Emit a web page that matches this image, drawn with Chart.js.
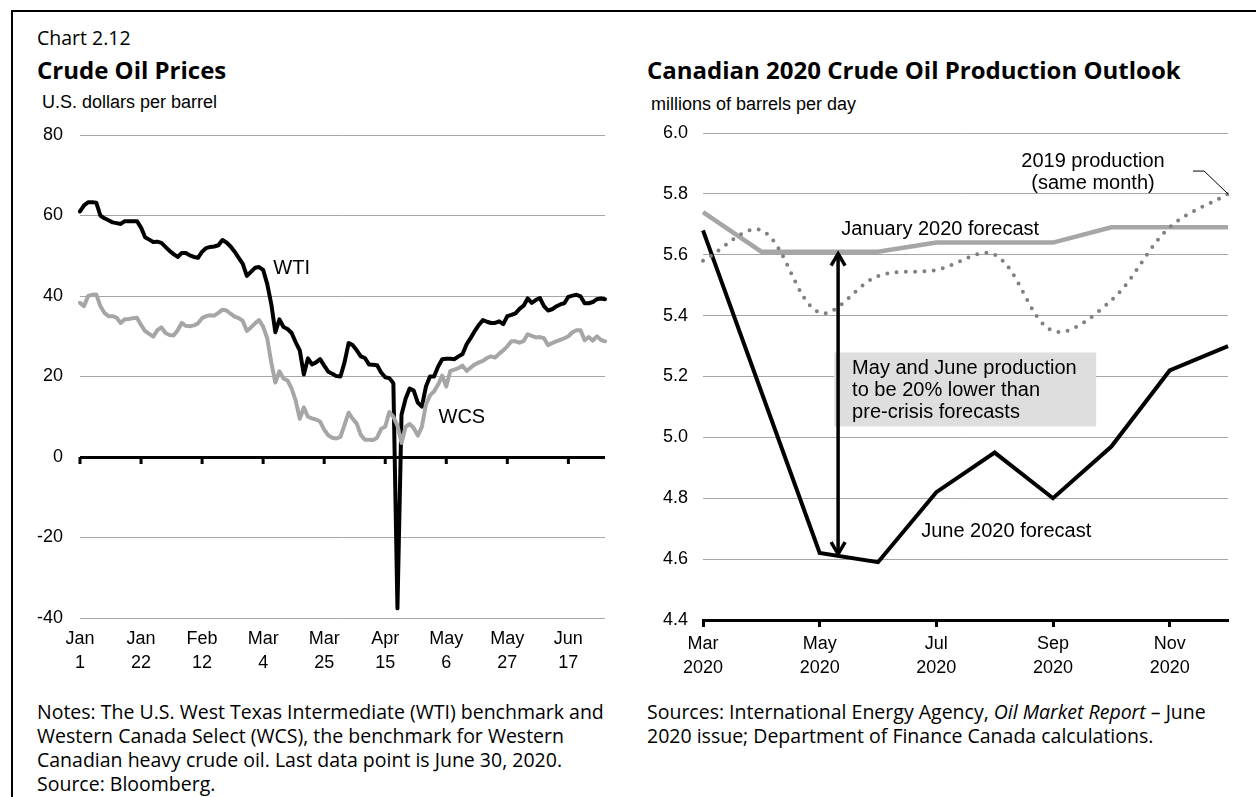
<!DOCTYPE html>
<html>
<head>
<meta charset="utf-8">
<script src="https://cdn.jsdelivr.net/npm/chart.js@4.4.0/dist/chart.umd.min.js"></script>
<style>
  html, body { margin: 0; padding: 0; background: #fff; }
  body { width: 1256px; height: 797px; position: relative; overflow: hidden; color: #000;
         font-family: "Open Sans", "Noto Sans", sans-serif; }
  .frame { position: absolute; left: 11px; top: 10px; width: 1400px; height: 1000px;
           border-left: 2px solid #000; border-top: 2px solid #000; }
  .t { position: absolute; white-space: nowrap; }
  .num { font-size: 19.5px; line-height: 26px; }
  .ttl { font-size: 24px; line-height: 30px; font-weight: 700; }
  .unit { font-family: "Liberation Sans", Arial, sans-serif; font-size: 18px; line-height: 22px; }
  .note { font-size: 19.5px; line-height: 24px; }
  canvas { position: absolute; top: 0; }
</style>
</head>
<body>
<div class="frame"></div>

<div class="t num" style="left:37px; top:25px;">Chart 2.12</div>
<div class="t ttl" style="left:37px; top:55px;">Crude Oil Prices</div>
<div class="t unit" style="left:42px; top:91px;">U.S. dollars per barrel</div>

<div class="t ttl" style="left:647px; top:55px;">Canadian 2020 Crude Oil Production Outlook</div>
<div class="t unit" style="left:651px; top:93px;">millions of barrels per day</div>

<div class="t note" style="left:37px; top:700px;">Notes: The U.S. West Texas Intermediate (WTI) benchmark and<br>Western Canada Select (WCS), the benchmark for Western<br>Canadian heavy crude oil. Last data point is June 30, 2020.<br>Source: Bloomberg.</div>
<div class="t note" style="left:647px; top:700px;">Sources: International Energy Agency, <i>Oil Market Report</i> – June<br>2020 issue; Department of Finance Canada calculations.</div>

<canvas id="prices" width="628" height="797" style="left:0; width:628px; height:797px;"></canvas>
<canvas id="outlook" width="628" height="797" style="left:628px; width:628px; height:797px;"></canvas>

<script>
// ---- Crude oil prices, daily (business days, Jan 1 - Jun 30, 2020), US$/bbl ----
const wtiPrices = [
  61.0, 62.5, 63.3, 63.3, 63.2, 60.0, 59.3, 58.8, 58.3, 58.1,
  57.9, 58.6, 58.6, 58.6, 58.6, 57.0, 54.6, 54.0, 53.4, 53.5,
  53.2, 52.2, 51.2, 50.4, 49.7, 50.7, 50.7, 50.1, 49.7, 49.5,
  51.0, 51.9, 52.2, 52.3, 52.6, 53.9, 53.3, 52.3, 51.0, 49.5,
  48.0, 45.0, 46.0, 47.0, 47.2, 46.5, 43.0, 38.0, 31.0, 34.2,
  32.3, 31.8, 30.8, 28.5, 26.5, 20.5, 24.5, 23.0, 23.5, 24.3,
  22.7, 21.2, 20.7, 20.1, 20.0, 23.5, 28.3, 27.8, 26.5, 25.0,
  24.6, 23.0, 22.9, 22.8, 21.0, 19.8, 19.6, 18.3, -37.6, 10.5,
  14.5, 17.0, 16.5, 13.5, 12.5, 17.5, 20.0, 20.0, 22.5, 24.3,
  24.4, 24.4, 24.3, 25.0, 25.6, 28.0, 29.6, 31.3, 32.8, 34.0,
  33.6, 33.3, 33.3, 33.7, 33.0, 35.0, 35.3, 35.7, 36.8, 37.6,
  39.4, 38.3, 39.0, 39.5, 37.5, 36.4, 36.7, 37.4, 37.9, 38.2,
  39.8, 40.1, 40.3, 39.9, 38.2, 38.2, 38.5, 39.2, 39.4, 39.2
];
const wcsPrices = [
  38.3, 37.5, 40.0, 40.3, 40.4, 37.5, 35.8, 35.0, 35.0, 34.6,
  33.3, 34.2, 34.3, 34.5, 34.6, 32.8, 31.3, 30.6, 29.9, 31.5,
  32.2, 30.8, 30.3, 30.2, 31.5, 33.3, 32.6, 32.5, 32.7, 33.2,
  34.5, 35.0, 35.2, 35.1, 35.8, 36.6, 36.4, 35.6, 34.9, 34.5,
  33.8, 31.3, 32.2, 33.2, 34.0, 32.4, 29.5, 23.5, 18.5, 21.3,
  19.5, 19.0, 17.0, 14.0, 9.5, 12.3, 10.0, 9.6, 9.3, 8.8,
  6.8, 5.4, 4.8, 4.6, 5.0, 8.0, 11.0, 9.5, 8.3, 5.5,
  4.3, 4.3, 4.2, 4.8, 7.0, 7.5, 11.2, 10.0, 7.8, 3.5,
  7.5, 8.2, 7.2, 5.3, 7.5, 13.0, 15.3, 16.3, 18.0, 20.2,
  17.5, 21.4, 21.7, 22.1, 22.7, 21.4, 22.2, 23.0, 23.5, 23.9,
  24.6, 25.0, 24.7, 25.7, 26.5, 27.5, 28.75, 28.75, 28.4, 28.8,
  30.5, 30.1, 29.7, 29.8, 29.5, 27.8, 28.3, 28.7, 29.1, 29.5,
  30.0, 31.0, 31.5, 31.5, 29.0, 29.8, 28.9, 30.0, 29.1, 28.75
];
// labelled dates, one every 15 business days
const priceTickLabels = [
  ['Jan', '1'], ['Jan', '22'], ['Feb', '12'], ['Mar', '4'], ['Mar', '25'],
  ['Apr', '15'], ['May', '6'], ['May', '27'], ['Jun', '17']
];
const priceTickStep = 15;
const priceAxis = { min: -40, max: 80, step: 20 };

// ---- Canadian crude oil production outlook, millions of barrels per day ----
const outlookMonths = ['Mar', 'Apr', 'May', 'Jun', 'Jul', 'Aug', 'Sep', 'Oct', 'Nov', 'Dec'];
const outlookYear = '2020';
const juneForecast = [5.68, 5.15, 4.62, 4.59, 4.82, 4.95, 4.80, 4.97, 5.22, 5.30];
const janForecast  = [5.74, 5.61, 5.61, 5.61, 5.64, 5.64, 5.64, 5.69, 5.69, 5.69];
const production2019 = [5.58, 5.68, 5.41, 5.53, 5.55, 5.60, 5.35, 5.45, 5.69, 5.80];
const outlookAxis = { min: 4.4, max: 6.0, step: 0.2 };

// business days Jan 1 - Jun 30, 2020 (category labels)
const tradingDays = [];
for (let d = new Date(Date.UTC(2020, 0, 1)); d <= new Date(Date.UTC(2020, 5, 30)); d.setUTCDate(d.getUTCDate() + 1)) {
  const wd = d.getUTCDay();
  if (wd !== 0 && wd !== 6) tradingDays.push(d.toISOString().slice(0, 10));
}

const SANS = '"Liberation Sans", Arial, sans-serif';
const AXIS_FONT = { family: SANS, size: 18, lineHeight: 1.28 };
const LABEL_FONT = '20px ' + SANS;
const GRID = '#a6a6a6';

Chart.defaults.animation = false;
Chart.defaults.responsive = false;
Chart.defaults.color = '#000';

// ---------- left panel ----------
const pricesPlugin = {
  id: 'pricesExtras',
  afterDatasetsDraw(chart) {
    const { ctx, scales: { x, y } } = chart;
    const y0 = y.getPixelForValue(0);
    ctx.save();
    // tick marks hanging from the zero line
    ctx.strokeStyle = '#000';
    ctx.lineWidth = 3;
    for (let i = 0; i < tradingDays.length; i += priceTickStep) {
      const px = x.getPixelForValue(i);
      ctx.beginPath();
      ctx.moveTo(px, y0);
      ctx.lineTo(px, y0 + 7);
      ctx.stroke();
    }
    // series labels
    ctx.fillStyle = '#000';
    ctx.font = LABEL_FONT;
    ctx.textBaseline = 'middle';
    ctx.textAlign = 'left';
    ctx.fillText('WTI', x.getPixelForValue(47.5), y.getPixelForValue(46.8));
    ctx.fillText('WCS', x.getPixelForValue(88.1), y.getPixelForValue(9.8));
    ctx.restore();
  }
};

new Chart(document.getElementById('prices'), {
  type: 'line',
  data: {
    labels: tradingDays,
    datasets: [
      { label: 'WCS', data: wcsPrices, borderColor: '#a6a6a6', borderWidth: 4,
        pointRadius: 0, borderJoinStyle: 'round', borderCapStyle: 'round', tension: 0 },
      { label: 'WTI', data: wtiPrices, borderColor: '#000', borderWidth: 4,
        pointRadius: 0, borderJoinStyle: 'round', borderCapStyle: 'round', tension: 0 }
    ]
  },
  options: {
    layout: { padding: { left: 20, top: 135, right: 23, bottom: 119 } },
    plugins: { legend: { display: false }, tooltip: { enabled: false } },
    scales: {
      x: {
        grid: { display: false, drawTicks: false },
        border: { display: false },
        ticks: {
          autoSkip: false, maxRotation: 0, padding: 10, font: AXIS_FONT,
          callback: (v, i) => (i % priceTickStep === 0 ? priceTickLabels[i / priceTickStep] : '')
        },
        afterFit: s => { s.height = 60; }
      },
      y: {
        min: priceAxis.min, max: priceAxis.max,
        grid: {
          drawTicks: false,
          color: c => (c.tick && c.tick.value === 0 ? '#000' : GRID),
          lineWidth: c => (c.tick && c.tick.value === 0 ? 3 : 1)
        },
        border: { display: false },
        ticks: { stepSize: priceAxis.step, padding: 17, font: AXIS_FONT },
        afterFit: s => { s.width = 60; }
      }
    }
  },
  plugins: [pricesPlugin]
});

// ---------- right panel ----------
const outlookPlugin = {
  id: 'outlookExtras',
  beforeDatasetsDraw(chart) {
    const { ctx, scales: { x, y } } = chart;
    const x1 = x.getPixelForValue(2.25), x2 = x.getPixelForValue(6.74);
    const yt = y.getPixelForValue(5.279), yb = y.getPixelForValue(5.036);
    ctx.save();
    ctx.fillStyle = '#dedede';
    ctx.fillRect(x1, yt, x2 - x1, yb - yt);
    ctx.fillStyle = '#000';
    ctx.font = LABEL_FONT;
    ctx.textBaseline = 'middle';
    ctx.textAlign = 'left';
    const tx = x.getPixelForValue(2.556);
    ctx.fillText('May and June production', tx, y.getPixelForValue(5.226));
    ctx.fillText('to be 20% lower than', tx, y.getPixelForValue(5.154));
    ctx.fillText('pre-crisis forecasts', tx, y.getPixelForValue(5.082));
    ctx.restore();
  },
  afterDatasetsDraw(chart) {
    const { ctx, scales: { x, y } } = chart;
    ctx.save();
    // double-headed arrow: pre-crisis vs June forecast for May
    const ax = x.getPixelForValue(2.316);
    const top = y.getPixelForValue(janForecast[2]);
    const bot = y.getPixelForValue(juneForecast[2] - 0.01);
    ctx.strokeStyle = '#000';
    ctx.lineWidth = 3.5;
    ctx.lineCap = 'butt';
    ctx.beginPath();
    ctx.moveTo(ax, top + 2);
    ctx.lineTo(ax, bot - 2);
    ctx.stroke();
    ctx.lineJoin = 'miter';
    ctx.beginPath();
    ctx.moveTo(ax - 7, top + 14); ctx.lineTo(ax, top + 2); ctx.lineTo(ax + 7, top + 14);
    ctx.moveTo(ax - 7, bot - 14); ctx.lineTo(ax, bot - 2); ctx.lineTo(ax + 7, bot - 14);
    ctx.stroke();

    // series labels
    ctx.fillStyle = '#000';
    ctx.font = LABEL_FONT;
    ctx.textBaseline = 'middle';
    ctx.textAlign = 'left';
    ctx.fillText('January 2020 forecast', x.getPixelForValue(2.37), y.getPixelForValue(5.682));
    ctx.fillText('June 2020 forecast', x.getPixelForValue(3.74), y.getPixelForValue(4.69));
    ctx.textAlign = 'center';
    ctx.fillText('2019 production', x.getPixelForValue(6.686), y.getPixelForValue(5.906));
    ctx.fillText('(same month)', x.getPixelForValue(6.686), y.getPixelForValue(5.835));

    // leader line to the 2019 series
    ctx.lineWidth = 1;
    ctx.beginPath();
    ctx.moveTo(x.getPixelForValue(8.40), y.getPixelForValue(5.875));
    ctx.lineTo(x.getPixelForValue(8.59), y.getPixelForValue(5.875));
    ctx.lineTo(x.getPixelForValue(9.0), y.getPixelForValue(production2019[9]));
    ctx.stroke();
    ctx.restore();
  }
};

new Chart(document.getElementById('outlook'), {
  type: 'line',
  data: {
    labels: outlookMonths,
    datasets: [
      { label: '2019 production (same month)', data: production2019, borderColor: '#808080',
        borderWidth: 4, borderDash: [0, 9.3], borderCapStyle: 'round', pointRadius: 0,
        tension: 0.35 },
      { label: 'January 2020 forecast', data: janForecast, borderColor: '#a6a6a6',
        borderWidth: 4.5, pointRadius: 0, tension: 0, borderJoinStyle: 'miter' },
      { label: 'June 2020 forecast', data: juneForecast, borderColor: '#000',
        borderWidth: 4, pointRadius: 0, tension: 0, borderJoinStyle: 'miter' }
    ]
  },
  options: {
    layout: { padding: { left: 12, top: 133, right: 28, bottom: 117 } },
    plugins: { legend: { display: false }, tooltip: { enabled: false } },
    scales: {
      x: {
        grid: {
          drawOnChartArea: false, drawTicks: true, tickLength: 7, tickWidth: 3,
          tickColor: c => (c.index % 2 === 0 ? '#000' : 'rgba(0,0,0,0)')
        },
        border: { display: true, color: '#000', width: 3 },
        ticks: {
          autoSkip: false, maxRotation: 0, padding: 6, font: AXIS_FONT,
          callback: (v, i) => (i % 2 === 0 ? [outlookMonths[i], outlookYear] : '')
        },
        afterFit: s => { s.height = 60; }
      },
      y: {
        min: outlookAxis.min, max: outlookAxis.max,
        grid: { drawTicks: false, color: GRID, lineWidth: 1 },
        border: { display: false },
        ticks: { stepSize: outlookAxis.step, padding: 15, font: AXIS_FONT,
                 callback: v => Number(v).toFixed(1) },
        afterFit: s => { s.width = 63; }
      }
    }
  },
  plugins: [outlookPlugin]
});
</script>
</body>
</html>
